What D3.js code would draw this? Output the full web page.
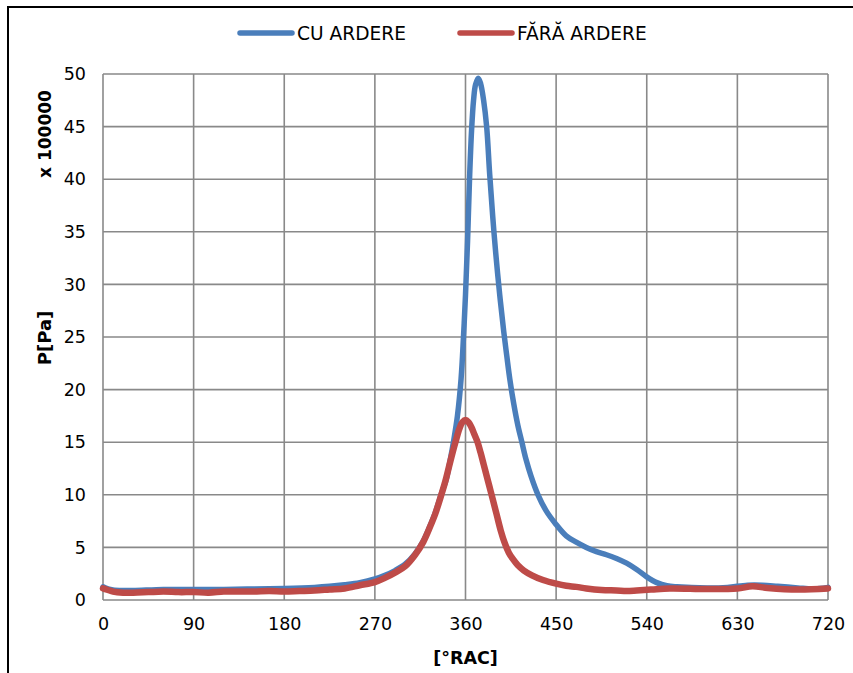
<!DOCTYPE html>
<html><head><meta charset="utf-8">
<script src="https://cdn.jsdelivr.net/npm/d3@7"></script>
<style>body{margin:0;background:#fff}svg{display:block}text{font-family:"DejaVu Sans",Verdana,sans-serif}</style>
</head><body>
<svg id="c" width="853" height="673"></svg>
<script>
const seriesNames = ["CU ARDERE", "FĂRĂ ARDERE"];
const xTicks = [0, 90, 180, 270, 360, 450, 540, 630, 720];
const yTicks = [0, 5, 10, 15, 20, 25, 30, 35, 40, 45, 50];

const cuAngle = [0,5,10,20,30,60,90,120,150,180,210,225,240,255,270,280,290,300,310,318,325,330,336,341,345,348,352,355.6,358,360,362,364,366,368,370,372.7,375,378,381,384,387,390,394,398,401,404,408,412,416,420,425,432,440,449,460,470,480,490,500,510,520,530,540,550,560,570,600,620,640,655,670,690,705,720];
const cuP = [1.25,1.05,0.95,0.9,0.9,1.0,1.0,1.0,1.05,1.1,1.2,1.3,1.45,1.65,2.0,2.35,2.8,3.4,4.4,5.6,7.1,8.3,10.1,11.5,13.4,15,17.5,21,25,29,34,40,44.6,47.5,49,49.6,49.1,47.5,45,40.5,36.5,33,29,25.5,23.2,21,18.6,16.6,15,13.4,11.8,10,8.5,7.3,6.1,5.5,5.0,4.6,4.3,3.95,3.5,2.9,2.2,1.65,1.35,1.25,1.15,1.2,1.4,1.4,1.3,1.15,1.05,1.2];

const faraAngle = [0,5,10,20,30,45,60,75,90,105,120,135,150,165,180,195,210,225,240,255,270,280,290,300,310,318,325,330,336,340,345,350,354,357,360,363,366,369,372,375,378,381,384,387,391,395,399,403,407,412,418,426,437,450,460,470,480,495,510,520,530,545,563,600,630,645,660,690,720];
const faraP = [1.1,0.95,0.8,0.7,0.7,0.75,0.8,0.75,0.75,0.7,0.8,0.8,0.8,0.85,0.8,0.85,0.9,1.0,1.1,1.4,1.7,2.1,2.6,3.2,4.3,5.5,7,8.2,10,11.3,13.2,15,16.3,16.9,17.1,16.9,16.4,15.7,15.0,14.0,12.9,11.8,10.7,9.6,8.1,6.6,5.4,4.5,3.9,3.3,2.8,2.35,1.9,1.55,1.35,1.25,1.1,0.95,0.9,0.85,0.9,1.0,1.1,1.05,1.1,1.3,1.15,1.0,1.1];

const colors = ["#4A7EBB", "#BE4B48"];

const svg = d3.select("#c");
const L = 103, R = 828, T = 74, B = 600;
const x = d3.scaleLinear().domain([0, 720]).range([L, R]);
const y = d3.scaleLinear().domain([0, 50]).range([B, T]);

// outer chart border
svg.append("rect").attr("x", 8).attr("y", 7).attr("width", 900).attr("height", 700)
  .attr("fill", "none").attr("stroke", "#000").attr("stroke-width", 2);

// gridlines
const g = svg.append("g");
g.selectAll(".vg").data(xTicks).join("line")
  .attr("x1", d => x(d)).attr("x2", d => x(d)).attr("y1", T).attr("y2", B)
  .attr("stroke", "#898989").attr("stroke-width", 1.6);
g.selectAll(".hg").data(yTicks).join("line")
  .attr("x1", L).attr("x2", R).attr("y1", d => y(d)).attr("y2", d => y(d))
  .attr("stroke", "#898989").attr("stroke-width", 1.6);

// axes labels via d3 axes
const xAxis = d3.axisBottom(x).tickValues(xTicks).tickSize(0).tickPadding(18);
const yAxis = d3.axisLeft(y).tickValues(yTicks).tickSize(0).tickPadding(17);
const gx = svg.append("g").attr("transform", `translate(0,${B})`).call(xAxis);
const gy = svg.append("g").attr("transform", `translate(${L},0)`).call(yAxis);
[gx, gy].forEach(a => {
  a.select(".domain").remove();
  a.selectAll("text").attr("font-family", "DejaVu Sans, Verdana, sans-serif")
    .attr("font-size", 17.5).attr("fill", "#000");
});

// lines
const cuData = cuAngle.map((a, i) => [a, cuP[i]]);
const faraData = faraAngle.map((a, i) => [a, faraP[i]]);
const line = d3.line().x(d => x(d[0])).y(d => y(d[1])).curve(d3.curveCatmullRom.alpha(0.5));
svg.append("path").datum(cuData).attr("d", line).attr("fill", "none")
  .attr("stroke", colors[0]).attr("stroke-width", 5.5).attr("stroke-linejoin", "round").attr("stroke-linecap", "round");
svg.append("path").datum(faraData).attr("d", line).attr("fill", "none")
  .attr("stroke", colors[1]).attr("stroke-width", 6.5).attr("stroke-linejoin", "round").attr("stroke-linecap", "round");

// titles
svg.append("text").attr("x", (L + R) / 2).attr("y", 664).attr("text-anchor", "middle")
  .attr("font-weight", "bold").attr("font-size", 17.5).text("[°RAC]");
svg.append("text").attr("transform", "translate(51,338) rotate(-90)").attr("text-anchor", "middle")
  .attr("font-weight", "bold").attr("font-size", 18).text("P[Pa]");
svg.append("text").attr("transform", "translate(51,134) rotate(-90)").attr("text-anchor", "middle")
  .attr("font-weight", "bold").attr("font-size", 17).text("x 100000");

// legend
const leg = svg.append("g");
const legX = [240, 460];
seriesNames.forEach((n, i) => {
  leg.append("line").attr("x1", legX[i]).attr("x2", legX[i] + 52).attr("y1", 33).attr("y2", 33)
    .attr("stroke", colors[i]).attr("stroke-width", 5.5).attr("stroke-linecap", "round");
  leg.append("text").attr("x", legX[i] + 57).attr("y", 40).attr("font-size", 18.6).text(n);
});
</script>
</body></html>
